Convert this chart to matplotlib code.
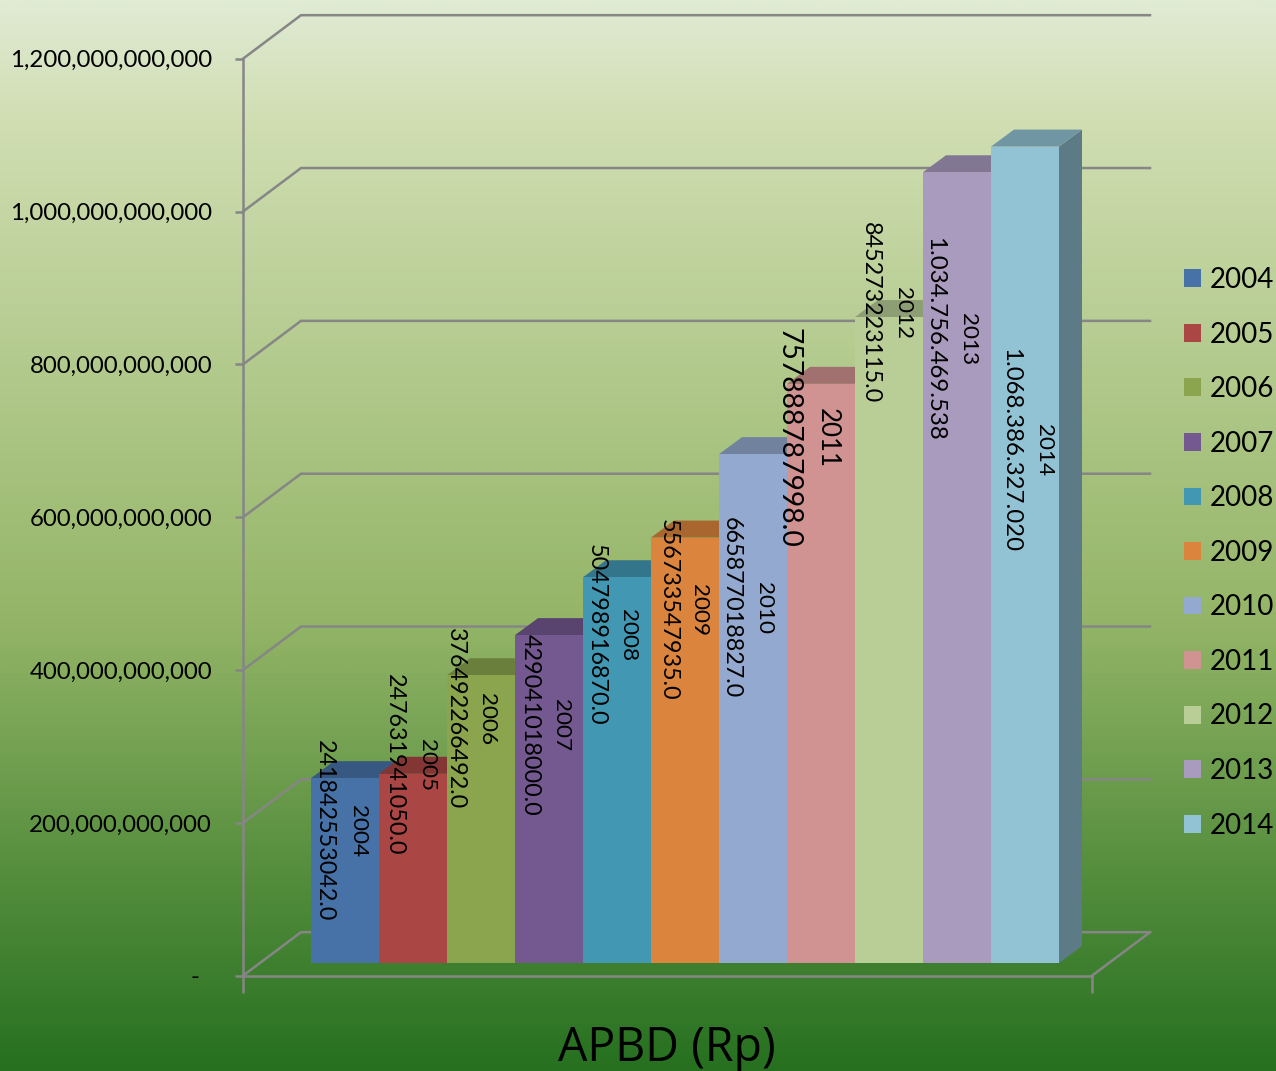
import matplotlib
matplotlib.use('Agg')
import matplotlib.pyplot as plt
import numpy as np
from matplotlib.colors import LinearSegmentedColormap, to_rgb
from matplotlib.ticker import FuncFormatter

years = ['2004', '2005', '2006', '2007', '2008', '2009', '2010', '2011', '2012', '2013', '2014']
apbd = [241842553042, 247631941050, 376492266492, 429041018000, 504798916870,
        556733547935, 665877018827, 757888787998, 845273223115, 1034756469538,
        1068386327020]
value_labels = ['241842553042.0', '247631941050.0', '376492266492.0', '429041018000.0',
                '504798916870.0', '556733547935.0', '665877018827.0', '757888787998.0',
                '845273223115.0', '1.034.756.469.538', '1.068.386.327.020']
colors = ['#4672A8', '#AA4643', '#8AA54D', '#745890', '#4298B3', '#DB843D',
          '#93A9CF', '#D19392', '#B9CD96', '#A99BBD', '#92C3D5']
y_ticks = [0, 200e9, 400e9, 600e9, 800e9, 1000e9, 1200e9]

W, H = 1276, 1071
PX_Y = 917 / 1.2e12   # pixels per rupiah
SLOT = 68             # pixels per bar
Y0 = 975.7            # pixel row of zero on the front plane
X0 = 329              # pixel column of the first bar centre on the front plane

# the data labels were placed by hand in the original: (value x, year x, y centre), pixels
label_pos = [(324, 358, 831), (394, 427, 765), (455, 487, 719), (530, 561, 725),
             (596, 628, 635), (668, 699, 610), (731, 764, 608), (789, 827, 438),
             (870, 903, 313), (935, 968, 339), (1011, 1044, 450)]

grad_stops = [(0.0, '#E0EBD4'), (120 / H, '#D0DEB2'), (620 / H, '#94B567'),
              (880 / H, '#538D3C'), (1.0, '#267020')]


def dark(color, f):
    return tuple(c * f for c in to_rgb(color))


fig = plt.figure(figsize=(W / 100, H / 100), dpi=100)
ax = fig.add_axes([0, 0, 1, 1])

cmap = LinearSegmentedColormap.from_list('bg', grad_stops)
ax.imshow(np.linspace(0, 1, 512).reshape(-1, 1), cmap=cmap, aspect='auto',
          extent=(0, 1, 0, 1), transform=ax.transAxes, zorder=0)

ax.set_xlim(-X0 / SLOT, (W - X0) / SLOT)
ax.set_ylim((Y0 - H) / PX_Y, Y0 / PX_Y)
ax.patch.set_visible(False)

# walls and floor
x_left = (243 - X0) / SLOT
x_right = (1092 - X0) / SLOT
wall_dx, wall_dy = 58 / SLOT, 43.5 / PX_Y
for v in y_ticks:
    ax.plot([x_left, x_left + wall_dx, x_right + wall_dx],
            [v, v + wall_dy, v + wall_dy], color='#868686', lw=1.8, zorder=1,
            solid_joinstyle='miter')
ax.plot([x_right, x_right + wall_dx], [0, wall_dy], color='#868686', lw=1.8, zorder=1)

# bars, front face sits part way into the floor
front_dx, front_dy = 16 / SLOT, 12.7 / PX_Y
top_dx, top_dy = 23 / SLOT, 17 / PX_Y
xs = np.arange(len(apbd))
for i, (x, v, c) in enumerate(zip(xs, apbd, colors)):
    z = 3 + i * 0.1
    l, r = x + front_dx - 0.5, x + front_dx + 0.5
    top = v + front_dy
    ax.fill([r, r + top_dx, r + top_dx, r], [front_dy, front_dy + top_dy, top + top_dy, top],
            color=dark(c, 0.63), lw=0, zorder=z)
    ax.fill([l, r, r + top_dx, l + top_dx], [top, top, top + top_dy, top + top_dy],
            color=dark(c, 0.77), lw=0, zorder=z)
    ax.bar(x + front_dx, v, width=1, bottom=front_dy, color=c, label=years[i], zorder=z + 0.05)

# data labels
for i, (vx, yx, yc) in enumerate(label_pos):
    size_v, size_y = (20.3, 18.6) if years[i] == '2011' else (16.8, 16.2)
    if i >= 9:
        size_v = 17.3
    fig.text(vx / W, 1 - yc / H, value_labels[i], rotation=-90, ha='center', va='center',
             fontsize=size_v, color='black', family='Lato', zorder=10)
    fig.text(yx / W, 1 - yc / H, years[i], rotation=-90, ha='center', va='center',
             fontsize=size_y, color='black', family='Lato', zorder=10)

# axes
for s in ['top', 'right']:
    ax.spines[s].set_visible(False)
ax.spines['left'].set_position(('data', x_left))
ax.spines['left'].set_bounds(0, 1.2e12)
ax.spines['bottom'].set_position(('data', 0))
ax.spines['bottom'].set_bounds(x_left, x_right)
for s in ['left', 'bottom']:
    ax.spines[s].set_color('#868686')
    ax.spines[s].set_linewidth(1.8)
ax.set_yticks(y_ticks)
ax.yaxis.set_major_formatter(FuncFormatter(lambda v, p: f'{v:,.0f}' if v else '-  '))
ax.tick_params(axis='y', direction='out', length=5.8, width=1.8, color='#868686',
               pad=16.5, labelsize=17.3, labelfontfamily='Lato')
ax.set_xticks([x_left, x_right])
ax.set_xticklabels(['', ''])
ax.tick_params(axis='x', direction='out', length=12, width=1.8, color='#868686')

ax.set_xlabel('APBD (Rp)', fontsize=33.5, family='Open Sans', color='black')
ax.xaxis.set_label_coords(667 / W, 1 - 1048 / H)
ax.xaxis.label.set_va('center')

ax.legend(loc='upper left', bbox_to_anchor=(1184 / W, 1 - 267 / H), frameon=False,
          prop={'family': 'Lato', 'size': 20}, handlelength=0.61, handleheight=0.61,
          handletextpad=0.3, labelspacing=1.028, borderpad=0, borderaxespad=0)

fig.savefig('out.png', dpi=100)
